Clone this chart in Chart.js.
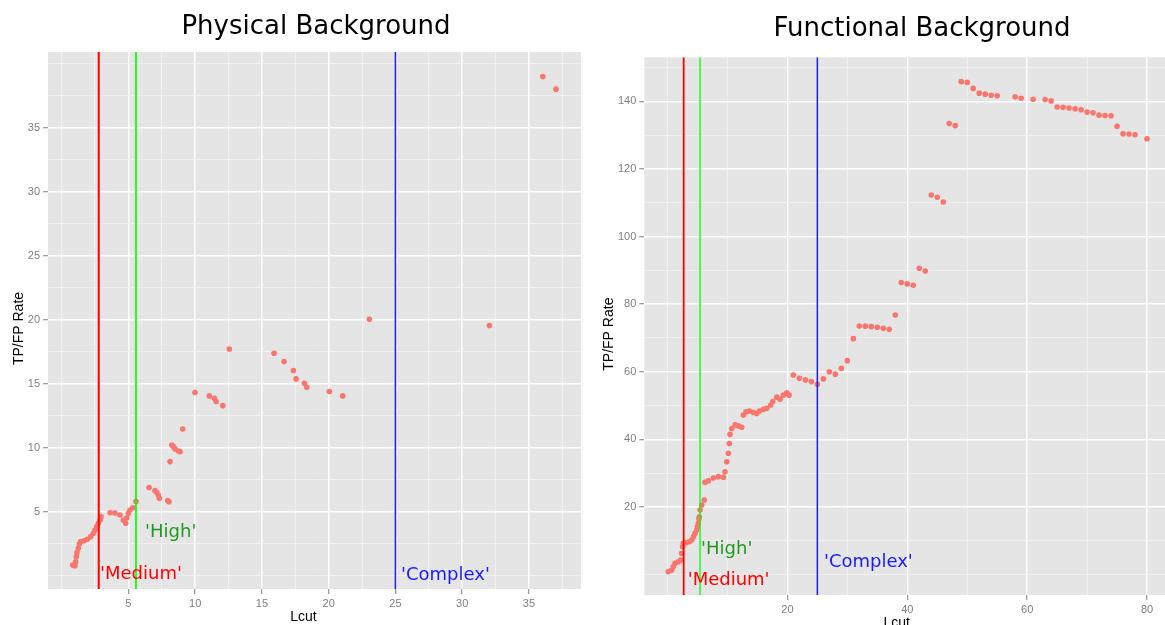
<!DOCTYPE html>
<html>
<head>
<meta charset="utf-8">
<script src="https://cdn.jsdelivr.net/npm/chart.js@4.4.0/dist/chart.umd.min.js"></script>
<style>
  html, body { margin: 0; padding: 0; background: #fff; overflow: hidden; }
  #wrap { position: relative; width: 1165px; height: 625px; overflow: hidden; }
  canvas { position: absolute; top: 0; }
  #physical { left: 0; }
  #functional { left: 590px; }
</style>
</head>
<body>
<div id="wrap">
  <canvas id="physical" width="581" height="625"></canvas>
  <canvas id="functional" width="581" height="625"></canvas>
</div>
<script>
// ---- Physical background: Lcut vs TP/FP rate ----
const physLcut = [0.83, 1.0, 1.05, 1.1, 1.15, 1.25, 1.33, 1.43, 1.68, 1.93, 2.18, 2.38, 2.5, 2.63, 2.75, 2.88, 2.95,
  3.63, 4.0, 4.37, 4.62, 4.8, 4.88, 5.0, 5.12, 5.33, 5.57,
  6.55, 6.99, 7.12, 7.24, 7.32, 7.95, 8.04, 8.12, 8.25, 8.37, 8.49, 8.74, 8.87, 9.07, 9.99,
  11.06, 11.44, 11.57, 12.07, 12.56, 15.91, 16.66, 17.36, 17.56, 18.18, 18.36, 20.05, 21.05,
  23.05, 32.04, 36.04, 37.03];
const physRate = [0.84, 0.78, 1.09, 1.48, 1.8, 2.14, 2.48, 2.66, 2.73, 2.84, 3.05, 3.31, 3.57, 3.83, 4.09, 4.35, 4.61,
  4.92, 4.9, 4.74, 4.35, 4.1, 4.5, 4.87, 5.13, 5.3, 5.8,
  6.88, 6.64, 6.51, 6.3, 6.04, 5.86, 5.78, 8.91, 10.2, 10.08, 9.9, 9.74, 9.69, 11.46, 14.3,
  14.04, 13.86, 13.6, 13.28, 17.7, 17.37, 16.72, 16.02, 15.37, 15.03, 14.72, 14.38, 14.04,
  20.03, 19.53, 38.98, 38.0];
const physXTicks = [5, 10, 15, 20, 25, 30, 35];
const physYTicks = [5, 10, 15, 20, 25, 30, 35];
const physCutoffs = [2.78, 5.57, 25];

// ---- Functional background: Lcut vs TP/FP rate ----
const funcLcut = [0.13, 0.7, 0.97, 1.25, 1.8, 2.2, 2.37, 2.53, 2.64, 3.09, 3.64, 4.04, 4.31, 4.59, 4.87, 5.0, 5.14, 5.25,
  5.31, 5.43, 5.71, 6.14, 6.26, 6.81, 7.65, 8.48, 9.32, 9.6, 9.88, 10.15, 10.32, 10.43, 10.72, 11.27, 11.82, 12.38,
  12.66, 13.1, 13.66, 14.33, 14.89, 15.33, 16.0, 16.56, 17.23, 17.56, 18.23, 18.78, 19.33, 19.9, 20.28,
  21, 22, 23, 24, 25, 26, 27, 28, 29, 30, 31, 32, 33, 34, 35, 36, 37, 38, 39, 40, 41, 42, 43, 44, 45, 46, 47, 48,
  49, 50, 51, 52, 53, 54, 55, 58, 59, 61, 63, 64, 65, 66, 67, 68, 69, 70, 71, 72, 73, 74, 75, 76, 77, 78, 80];
const funcRate = [0.86, 1.36, 2.34, 3.34, 3.82, 4.32, 6.3, 8.25, 9.26, 9.44, 9.73, 10.24, 11.21, 12.22, 13.2, 14.2, 15.18, 16.5,
  17.13, 19.1, 20.6, 22.07, 27.3, 27.8, 28.6, 29.0, 28.8, 30.44, 33.4, 35.9, 38.8, 41.5, 43.2, 44.3, 44.0, 43.6,
  47.2, 48.2, 48.4, 48.0, 47.7, 48.4, 48.9, 49.2, 50.2, 51.2, 52.5, 51.9, 53.1, 53.8, 53.1,
  59.05, 58.1, 57.6, 57.1, 56.3, 57.9, 60.0, 59.3, 61.0, 63.3, 69.8, 73.55, 73.5, 73.35, 73.16, 72.86, 72.57, 76.8,
  86.4, 86.0, 85.6, 90.6, 89.8, 112.3, 111.6, 110.2, 133.4, 132.8,
  145.8, 145.6, 143.8, 142.4, 142.1, 141.8, 141.6, 141.3, 140.9, 140.6, 140.5, 140.1, 138.3, 138.2, 138.0, 137.8,
  137.5, 136.8, 136.6, 135.9, 135.8, 135.7, 132.6, 130.4, 130.3, 130.1, 128.9];
const funcXTicks = [20, 40, 60, 80];
const funcYTicks = [20, 40, 60, 80, 100, 120, 140];
const funcCutoffs = [2.7, 5.43, 25];

const cutoffNames = ["'Medium'", "'High'", "'Complex'"];
const cutoffLineColors = ['#ff0000', '#00ff00', '#1a1aff'];
const cutoffTextColors = ['#ff0000', '#1f9a1f', '#1a1aff'];

// minor grid positions sit halfway between the major breaks, across the whole range
function gridValues(majors, min, max) {
  const step = (majors[1] - majors[0]) / 2;
  const out = [];
  for (let v = Math.ceil(min / step) * step; v <= max + 1e-9; v += step) out.push(+v.toFixed(6));
  return out;
}

// grey panel, titles, axis titles and cutoff labels
const panelDecor = {
  id: 'panelDecor',
  beforeDraw(chart, args, o) {
    const { ctx, chartArea: a } = chart;
    ctx.save();
    ctx.fillStyle = '#e5e5e5';
    ctx.fillRect(a.left, a.top, a.right - a.left, a.bottom - a.top);
    ctx.restore();
  },
  afterDatasetsDraw(chart, args, o) {
    const { ctx, scales: { x, y } } = chart;
    ctx.save();
    ctx.font = '18px "DejaVu Sans"';
    ctx.textAlign = 'left';
    ctx.textBaseline = 'alphabetic';
    o.labels.forEach(l => {
      ctx.fillStyle = l.color;
      ctx.fillText(l.text, x.getPixelForValue(l.x), y.getPixelForValue(l.y));
    });
    ctx.restore();
  },
  afterDraw(chart, args, o) {
    const { ctx, chartArea: a } = chart;
    ctx.save();
    ctx.fillStyle = '#000';
    ctx.font = '26px "DejaVu Sans"';
    ctx.textAlign = 'center';
    ctx.textBaseline = 'alphabetic';
    ctx.fillText(o.title, o.titleX, o.titleY);
    ctx.font = '14px "Liberation Sans"';
    ctx.textBaseline = 'middle';
    ctx.fillText(o.xTitle, (a.left + a.right) / 2 - 11, a.bottom + 28.5);
    ctx.translate(19, (a.top + a.bottom) / 2 + 8);
    ctx.rotate(-Math.PI / 2);
    ctx.fillText(o.yTitle, 0, 0);
    ctx.restore();
  }
};

function axis(majors, min, max, fit, pad) {
  const isMajor = v => majors.some(m => Math.abs(m - v) < 1e-6);
  return {
    type: 'linear', min, max,
    afterBuildTicks: s => { s.ticks = gridValues(majors, min, max).map(v => ({ value: v })); },
    afterFit: s => {
      fit(s);
      // the panel fills the space exactly; no extra room for edge labels
      s.paddingLeft = 0; s.paddingRight = 0; s.paddingTop = 0; s.paddingBottom = 0;
    },
    border: { display: false },
    grid: {
      color: c => isMajor(c.tick.value) ? '#ffffff' : '#f2f2f2',
      lineWidth: c => isMajor(c.tick.value) ? 1.5 : 0.8,
      tickColor: c => isMajor(c.tick.value) ? '#7f7f7f' : 'rgba(0,0,0,0)',
      tickLength: 5, tickWidth: 1
    },
    ticks: {
      autoSkip: false, maxRotation: 0, minRotation: 0, padding: pad,
      color: '#7f7f7f', font: { family: '"Liberation Sans"', size: 11 },
      callback: v => isMajor(v) ? String(v) : ''
    }
  };
}

function makePanel(id, p) {
  const points = p.lcut.map((v, i) => ({ x: v, y: p.rate[i] }));
  const lines = p.cutoffs.map((c, i) => ({
    type: 'line', order: 0,
    data: [{ x: c, y: p.yMin }, { x: c, y: p.yMax }],
    borderColor: cutoffLineColors[i], borderWidth: p.lineWidths[i],
    pointRadius: 0, fill: false
  }));
  new Chart(document.getElementById(id), {
    type: 'scatter',
    data: {
      datasets: [...lines, {
        order: 1, data: points,
        backgroundColor: '#f8766d', borderWidth: 0, pointRadius: 2.8
      }]
    },
    options: {
      responsive: false, animation: false, events: [],
      layout: { autoPadding: false, padding: { top: p.top, right: 0, bottom: 0, left: 0 } },
      scales: {
        x: axis(p.xTicks, p.xMin, p.xMax, s => { s.height = p.xAxisH; }, p.xPad),
        y: axis(p.yTicks, p.yMin, p.yMax, s => { s.width = p.yAxisW; }, 3)
      },
      plugins: {
        legend: { display: false }, tooltip: { enabled: false },
        panelDecor: {
          title: p.title, titleX: p.titleX, titleY: p.titleY,
          xTitle: 'Lcut', yTitle: 'TP/FP Rate',
          labels: p.labels
        }
      }
    },
    plugins: [panelDecor]
  });
}

makePanel('physical', {
  title: 'Physical Background', titleX: 316, titleY: 34,
  lcut: physLcut, rate: physRate, cutoffs: physCutoffs, lineWidths: [2, 1.7, 1.5],
  xTicks: physXTicks, yTicks: physYTicks,
  xMin: -1.02, xMax: 38.9, yMin: -1.04, yMax: 40.9,
  top: 52, yAxisW: 48, xAxisH: 36, xPad: 3,
  labels: [
    { text: cutoffNames[0], color: cutoffTextColors[0], x: 2.88, y: -0.28 },
    { text: cutoffNames[1], color: cutoffTextColors[1], x: 6.25, y: 3.05 },
    { text: cutoffNames[2], color: cutoffTextColors[2], x: 25.42, y: -0.34 }
  ]
});

makePanel('functional', {
  title: 'Functional Background', titleX: 332, titleY: 36,
  lcut: funcLcut, rate: funcRate, cutoffs: funcCutoffs, lineWidths: [1.8, 1.3, 1.5],
  xTicks: funcXTicks, yTicks: funcYTicks,
  xMin: -3.87, xMax: 84, yMin: -6.0, yMax: 153.0,
  top: 57.3, yAxisW: 54.3, xAxisH: 30, xPad: 3,
  labels: [
    { text: cutoffNames[0], color: cutoffTextColors[0], x: 3.37, y: -3.08 },
    { text: cutoffNames[1], color: cutoffTextColors[1], x: 5.6, y: 6.1 },
    { text: cutoffNames[2], color: cutoffTextColors[2], x: 26.1, y: 2.34 }
  ]
});
</script>
</body>
</html>
